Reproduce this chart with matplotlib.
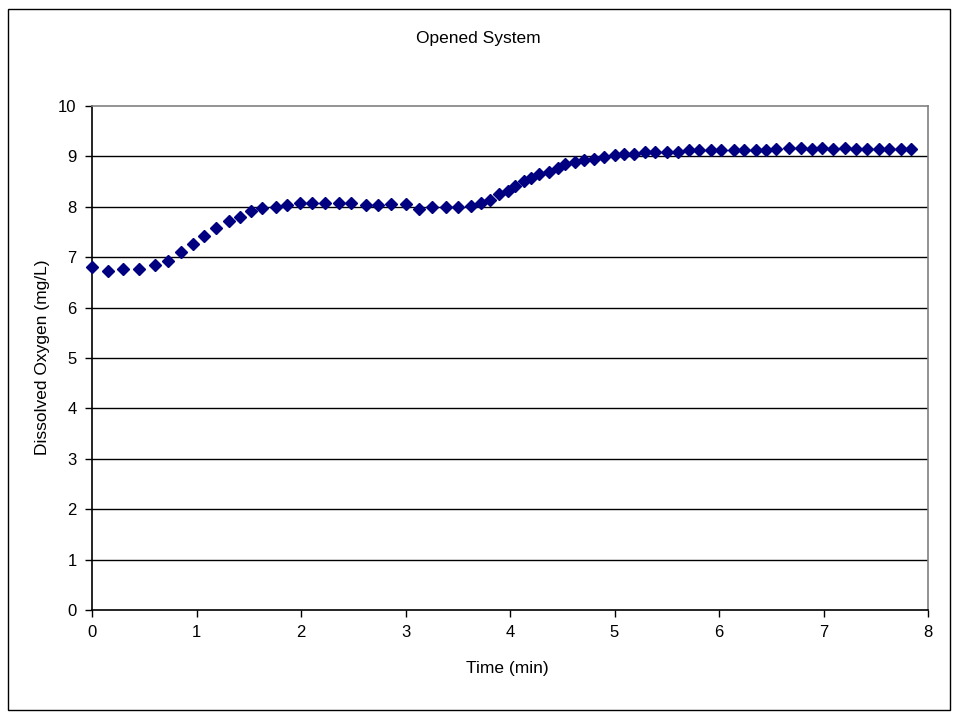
import matplotlib
matplotlib.use("Agg")
import matplotlib.pyplot as plt
from matplotlib.patches import Rectangle

# readings taken off the chart (time in min, DO in mg/L)
time_min = [
    0.00, 0.15, 0.30, 0.45, 0.60, 0.73, 0.85, 0.97, 1.07, 1.19,
    1.31, 1.42, 1.52, 1.63, 1.76, 1.87, 1.99, 2.11, 2.23, 2.36,
    2.48, 2.62, 2.74, 2.86, 3.00, 3.13, 3.25, 3.39, 3.50, 3.63,
    3.72, 3.81, 3.89, 3.98, 4.05, 4.13, 4.20, 4.28, 4.37, 4.46,
    4.53, 4.62, 4.71, 4.80, 4.90, 5.00, 5.09, 5.19, 5.29, 5.39,
    5.50, 5.61, 5.71, 5.81, 5.92, 6.02, 6.14, 6.24, 6.35, 6.45,
    6.55, 6.67, 6.78, 6.89, 6.99, 7.09, 7.21, 7.31, 7.42, 7.53,
    7.63, 7.74, 7.84,
]
dissolved_o2 = [
    6.80, 6.72, 6.76, 6.76, 6.84, 6.93, 7.10, 7.27, 7.43, 7.57,
    7.71, 7.80, 7.91, 7.97, 8.00, 8.04, 8.08, 8.08, 8.08, 8.08,
    8.08, 8.04, 8.04, 8.05, 8.05, 7.96, 8.00, 8.00, 8.00, 8.01,
    8.08, 8.14, 8.26, 8.32, 8.41, 8.51, 8.58, 8.65, 8.70, 8.77,
    8.85, 8.88, 8.92, 8.95, 8.99, 9.03, 9.05, 9.05, 9.09, 9.09,
    9.08, 9.08, 9.12, 9.12, 9.12, 9.13, 9.12, 9.12, 9.12, 9.12,
    9.15, 9.17, 9.17, 9.15, 9.17, 9.15, 9.17, 9.15, 9.15, 9.15,
    9.15, 9.15, 9.15,
]
x_ticks = [0, 1, 2, 3, 4, 5, 6, 7, 8]
y_ticks = [0, 1, 2, 3, 4, 5, 6, 7, 8, 9, 10]

plt.rcParams["font.family"] = ["Liberation Sans", "DejaVu Sans"]
plt.rcParams["font.size"] = 12

fig = plt.figure(figsize=(9.6, 7.2), dpi=100)
ax = fig.add_axes([92 / 960, 1 - 610 / 720, 836 / 960, 504 / 720])

# outer chart frame
fig.patches.append(Rectangle((8 / 960, 1 - 710 / 720), 942 / 960, 701 / 720,
                             transform=fig.transFigure, fill=False,
                             edgecolor="black", linewidth=1.0))

for y in y_ticks[1:-1]:
    ax.axhline(y, color="black", linewidth=1.0, zorder=1)

ax.plot(time_min, dissolved_o2, linestyle="none", marker="D",
        markersize=6.5, color="#000080", zorder=3, clip_on=False)

ax.set_xlim(0, 8)
ax.set_ylim(0, 10)
ax.set_xticks(x_ticks)
ax.set_yticks(y_ticks)
ax.tick_params(direction="out", length=5, width=1, color="black", pad=6)

ax.spines["left"].set_color("black")
ax.spines["bottom"].set_color("black")
ax.spines["top"].set_color("#808080")
ax.spines["right"].set_color("#808080")
for s in ax.spines.values():
    s.set_linewidth(1.2)

fig.text(478 / 960, 1 - 39 / 720, "Opened System", ha="center", va="center",
         fontsize=12.5)
fig.text(507 / 960, 1 - 668 / 720, "Time (min)", ha="center", va="center",
         fontsize=12.5)
fig.text(43 / 960, 1 - 357 / 720, "Dissolved Oxygen (mg/L)", ha="center",
         va="center", rotation=90, fontsize=12.5)

fig.savefig("out.png", dpi=100)
